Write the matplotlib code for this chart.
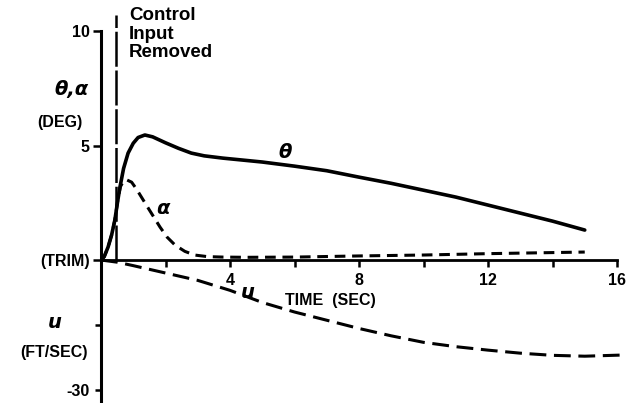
import numpy as np
import matplotlib.pyplot as plt

plt.rcParams['font.family'] = ['Liberation Sans', 'DejaVu Sans']
plt.rcParams['font.weight'] = 'bold'

# pitch attitude theta (deg)
t_theta = [0, 0.1, 0.22, 0.33, 0.43, 0.52, 0.59, 0.7, 0.84, 1.0, 1.15, 1.36, 1.6, 2.0,
           2.4, 2.8, 3.2, 3.78, 4.5, 5.0, 6.0, 7.0, 8.0, 9.0, 10.0, 11.0, 12.0, 13.0, 14.0, 15.0]
theta = [0, 0.15, 0.57, 1.1, 1.75, 2.6, 3.2, 4.0, 4.67, 5.1, 5.35, 5.46, 5.38, 5.12,
         4.88, 4.67, 4.55, 4.45, 4.35, 4.28, 4.1, 3.9, 3.62, 3.35, 3.05, 2.75, 2.4, 2.05, 1.7, 1.31]

# angle of attack alpha (deg)
t_alpha = [0, 0.1, 0.22, 0.33, 0.43, 0.52, 0.6, 0.7, 0.8, 0.95, 1.1, 1.45, 1.83, 2.05, 2.3,
           2.6, 2.9, 3.3, 3.78, 4.5, 6.0, 8.0, 10.0, 12.0, 15.0]
alpha = [0, 0.15, 0.57, 1.1, 1.75, 2.6, 3.2, 3.45, 3.5, 3.4, 3.1, 2.3, 1.44, 1.0, 0.65,
         0.38, 0.22, 0.15, 0.13, 0.12, 0.13, 0.18, 0.22, 0.28, 0.35]

# forward speed u (ft/sec)
t_u = [0, 0.5, 1.0, 2.0, 3.0, 4.0, 5.0, 6.0, 7.0, 8.0, 9.0, 10.0, 11.0, 12.0, 13.0, 14.0, 15.0, 16.3]
u = [0, -0.5, -1.3, -3.0, -4.7, -7.0, -9.8, -12.0, -13.9, -15.8, -17.5, -19.0, -20.0, -20.8,
     -21.5, -22.0, -22.2, -21.9]

t_control = 0.46

fig = plt.figure(figsize=(6.3, 4.03), dpi=100)
ax = fig.add_axes([101 / 630, 0, 516 / 630, 372 / 403])
ax2 = ax.twinx()

ax.set_xlim(0, 16)
ax.set_ylim(-6.24, 10)
ax2.set_ylim(-33.0, 52.85)

ax.plot(t_theta, theta, color='black', lw=2.6, solid_capstyle='round', solid_joinstyle='round')
ax.plot(t_alpha, alpha, color='black', lw=2.2, dashes=(3.5, 2.2))
ax2.plot(t_u, u, color='black', lw=2.2, dashes=(5.5, 2.5), clip_on=False)
ax.plot([t_control, t_control], [0, 10.7], color='black', lw=1.8,
        dashes=(14, 1.5), clip_on=False)

for a in (ax, ax2):
    a.spines['top'].set_visible(False)
    a.spines['right'].set_visible(False)
ax2.spines['left'].set_visible(False)
ax2.spines['bottom'].set_visible(False)
ax.spines['bottom'].set_position(('data', 0))
ax.spines['left'].set_linewidth(2.2)
ax.spines['bottom'].set_linewidth(2.0)

ax.set_xticks([2, 4, 6, 8, 10, 12, 14, 16])
ax.set_xticklabels(['', '4', '', '8', '', '12', '', '16'], fontsize=11.5, fontweight='bold')
ax.tick_params(axis='x', direction='out', length=5, width=1.8, pad=4)

ax.set_yticks([10, 5, 0])
ax.set_yticklabels(['10', '5', '(TRIM)'], fontsize=11.5, fontweight='bold')
ax.tick_params(axis='y', direction='out', length=6, width=1.8, pad=2)

ax2.yaxis.tick_left()
ax2.set_yticks([-15, -30])
ax2.set_yticklabels(['', '-30'], fontsize=11.5, fontweight='bold')
ax2.tick_params(axis='y', direction='out', length=4, width=1.8, pad=4)

ax.text(330 / 630, 1 - 300 / 403, 'TIME  (SEC)', transform=fig.transFigure,
        ha='center', va='center', fontsize=11.5, fontweight='bold')
ax.text(129 / 630, 1 - 7 / 403, 'Control\nInput\nRemoved', transform=fig.transFigure,
        ha='left', va='top', fontsize=13.5, fontweight='bold', linespacing=1.12)
ax.text(72 / 630, 1 - 90 / 403, 'θ,α', transform=fig.transFigure,
        ha='center', va='center', fontsize=14, style='italic', family='DejaVu Sans')
ax.text(60 / 630, 1 - 122 / 403, '(DEG)', transform=fig.transFigure,
        ha='center', va='center', fontsize=11.5, fontweight='bold')
ax.text(55 / 630, 1 - 322 / 403, 'u', transform=fig.transFigure,
        ha='center', va='center', fontsize=14, style='italic', family='DejaVu Sans')
ax.text(54 / 630, 1 - 352 / 403, '(FT/SEC)', transform=fig.transFigure,
        ha='center', va='center', fontsize=11.5, fontweight='bold')

ax.text(285 / 630, 1 - 153 / 403, 'θ', transform=fig.transFigure,
        ha='center', va='center', fontsize=14, style='italic', family='DejaVu Sans')
ax.text(163 / 630, 1 - 208 / 403, 'α', transform=fig.transFigure,
        ha='center', va='center', fontsize=14, style='italic', family='DejaVu Sans')
ax.text(248 / 630, 1 - 292 / 403, 'u', transform=fig.transFigure,
        ha='center', va='center', fontsize=14, style='italic', family='DejaVu Sans')

fig.savefig('out.png', dpi=100)
